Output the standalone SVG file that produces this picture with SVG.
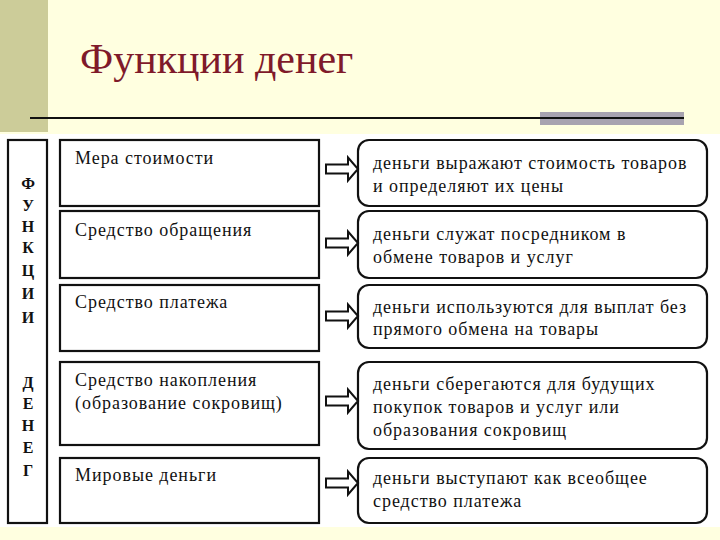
<svg xmlns="http://www.w3.org/2000/svg" width="720" height="540" viewBox="0 0 720 540">
<defs>
<style>
.box{fill:#fff;stroke:#111;stroke-width:2.2}
.arr{fill:#fff;stroke:#111;stroke-width:2}
</style>
<polygon id="arrow" class="arr" points="326,-4.5 348,-4.5 348,-11.5 358,0 348,11.5 348,4.5 326,4.5"/>
</defs>
<rect x="0" y="0" width="720" height="540" fill="#FFFFE0"/>
<rect x="0" y="0" width="48" height="132" fill="#CCCC99"/>
<rect x="540" y="112" width="144" height="13" fill="#A8A3B0"/>
<line x1="30" y1="118" x2="684" y2="118" stroke="#111" stroke-width="2"/>
<text x="80" y="73" font-family="Liberation Serif, serif" font-size="42" fill="#7F1A2A">Функции денег</text>
<rect x="0" y="134" width="720" height="393" fill="#fff"/>

<g id="side">
<rect class="box" x="8" y="140" width="39" height="383"/>
<text x="28" font-family="Liberation Serif, serif" font-size="16" font-weight="bold" fill="#111" text-anchor="middle"><tspan x="28" y="189">Ф</tspan><tspan x="28" y="211">У</tspan><tspan x="28" y="232">Н</tspan><tspan x="28" y="253">К</tspan><tspan x="28" y="276">Ц</tspan><tspan x="28" y="299">И</tspan><tspan x="28" y="323">И</tspan><tspan x="28" y="388">Д</tspan><tspan x="28" y="409">Е</tspan><tspan x="28" y="431">Н</tspan><tspan x="28" y="453">Е</tspan><tspan x="28" y="476">Г</tspan></text>
</g>

<g font-family="Liberation Serif, serif" font-size="18" letter-spacing="0.95" fill="#111">
<g id="f1"><rect class="box" x="60" y="140" width="259" height="66"/><text x="75" y="164">Мера стоимости</text></g>
<g id="f2"><rect class="box" x="60" y="211" width="259" height="67"/><text x="75" y="236">Средство обращения</text></g>
<g id="f3"><rect class="box" x="60" y="285" width="259" height="66"/><text x="75" y="308">Средство платежа</text></g>
<g id="f4"><rect class="box" x="60" y="362" width="259" height="83"/><text x="75" y="386">Средство накопления</text><text x="75" y="409">(образование сокровищ)</text></g>
<g id="f5"><rect class="box" x="60" y="458" width="259" height="65"/><text x="75" y="481">Мировые деньги</text></g>

<g id="d1"><rect class="box" x="358" y="140" width="349" height="66" rx="11"/><text x="373" y="169">деньги выражают стоимость товаров</text><text x="373" y="192">и определяют их цены</text></g>
<g id="d2"><rect class="box" x="358" y="211" width="349" height="67" rx="11"/><text x="373" y="240">деньги служат посредником в</text><text x="373" y="263">обмене товаров и услуг</text></g>
<g id="d3"><rect class="box" x="358" y="285" width="349" height="63" rx="11"/><text x="373" y="313">деньги используются для выплат без</text><text x="373" y="335">прямого обмена на товары</text></g>
<g id="d4"><rect class="box" x="358" y="362" width="349" height="87" rx="11"/><text x="373" y="390">деньги сберегаются для будущих</text><text x="373" y="413">покупок товаров и услуг или</text><text x="373" y="436">образования сокровищ</text></g>
<g id="d5"><rect class="box" x="358" y="458" width="349" height="65" rx="11"/><text x="373" y="484">деньги выступают как всеобщее</text><text x="373" y="507">средство платежа</text></g>
</g>

<g id="connectors">
<use href="#arrow" y="169"/>
<use href="#arrow" y="243"/>
<use href="#arrow" y="316"/>
<use href="#arrow" y="401"/>
<use href="#arrow" y="483"/>
</g>
</svg>
